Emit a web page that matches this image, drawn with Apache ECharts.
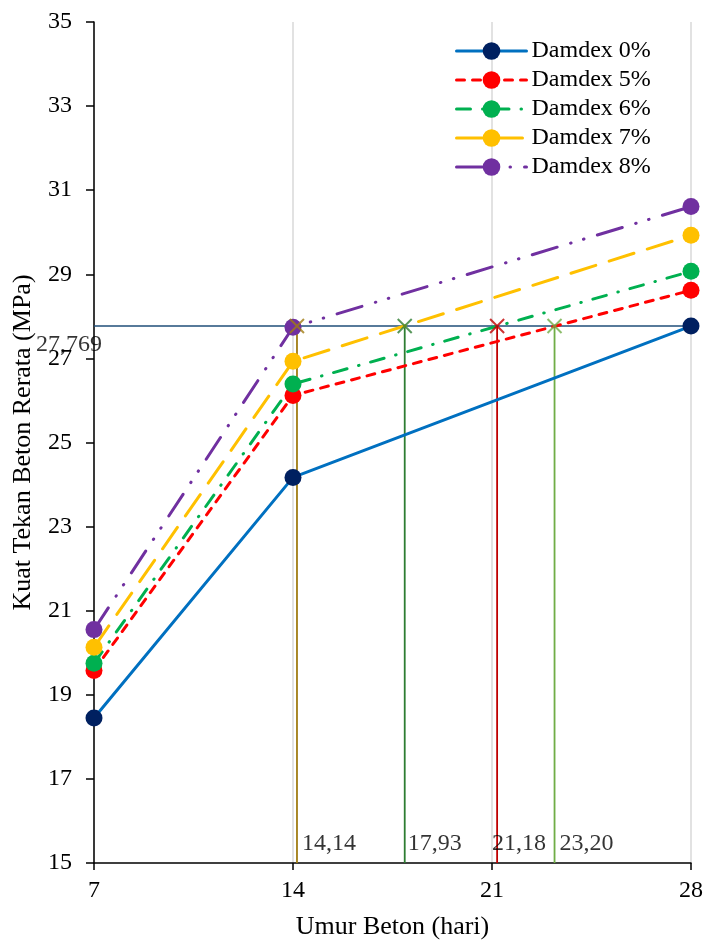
<!DOCTYPE html>
<html><head><meta charset="utf-8">
<script src="https://cdn.jsdelivr.net/npm/echarts@6/dist/echarts.min.js"></script>
<style>html,body{margin:0;padding:0;background:#fff}#c{width:704px;height:940px}</style>
</head><body><div id="c"></div>
<script>
const ages = [7, 14, 28];
const seriesNames = ['Damdex 0%', 'Damdex 5%', 'Damdex 6%', 'Damdex 7%', 'Damdex 8%'];
const d0 = [18.45, 24.17, 27.769];
const d5 = [19.58, 26.12, 28.62];
const d6 = [19.75, 26.39, 29.07];
const d7 = [20.13, 26.93, 29.93];
const d8 = [20.55, 27.74, 30.61];
const targetStrength = 27.769;
const targetLabel = '27,769';
const intersectX = [14.14, 17.93, 21.18, 23.20];
const intersectLabels = ['14,14', '17,93', '21,18', '23,20'];
const xTicks = [7, 14, 21, 28];
const yMin = 15, yMax = 35, yStep = 2;

const FONT = 'Liberation Serif';
const lineColors = ['#0070C0', '#FF0000', '#00B050', '#FFC000', '#7030A0'];
const markerColors = ['#002060', '#FF0000', '#00B050', '#FFC000', '#7030A0'];
const dashTypes = ['solid', [8, 8], [14, 12, 0.5, 12], [26, 14], [26, 14, 0.5, 13, 0.5, 14]];
const vColors = ['#A07C12', '#2E7D32', '#C00000', '#70AD47'];
const vLabelOffsets = [[0, 0], [-2, 0], [-10, 0], [0, 0]];
const allData = [d0, d5, d6, d7, d8];

const series = [];
allData.forEach((d, i) => {
  series.push({
    name: seriesNames[i], type: 'line', z: 5,
    data: ages.map((a, k) => [a, d[k]]),
    symbol: 'circle', symbolSize: 17,
    lineStyle: { color: lineColors[i], width: 3, type: dashTypes[i], cap: 'round' },
    itemStyle: { color: markerColors[i] }
  });
});
series.push({
  type: 'line', z: 3, silent: true,
  data: [[xTicks[0], targetStrength], [xTicks[xTicks.length - 1], targetStrength]],
  symbol: 'none', lineStyle: { color: '#1F4E79', width: 1.6 }
});
series.push({
  type: 'scatter', z: 6, silent: true, symbolSize: 0,
  data: [[xTicks[0], targetStrength]],
  label: { show: true, position: 'bottom', distance: 7, offset: [-25, 0], formatter: targetLabel,
    fontFamily: FONT, fontSize: 24, color: '#000' }
});
intersectX.forEach((x, i) => {
  series.push({
    type: 'line', z: 4, silent: true,
    data: [[x, yMin], [x, targetStrength]],
    symbol: 'none', lineStyle: { color: vColors[i], width: 1.8 }
  });
  series.push({
    type: 'scatter', z: 7, silent: true,
    data: [[x, targetStrength]],
    symbol: 'path://M0,0L10,10M10,0L0,10', symbolSize: 14,
    itemStyle: { color: 'none', borderColor: vColors[i], borderWidth: 2 }
  });
  series.push({
    type: 'scatter', z: 7, silent: true, symbolSize: 0,
    data: [[x, yMin + 0.45]],
    label: { show: true, position: 'right', distance: 5, offset: vLabelOffsets[i],
      formatter: intersectLabels[i], fontFamily: FONT, fontSize: 24, color: '#000' }
  });
});

const chart = echarts.init(document.getElementById('c'), null, { renderer: 'canvas' });
chart.setOption({
  animation: false,
  backgroundColor: '#fff',
  grid: { left: 94, right: 13, top: 22, bottom: 77, containLabel: false, outerBoundsMode: 'none' },
  legend: {
    data: seriesNames, orient: 'vertical', left: 450, top: 34,
    itemWidth: 70, itemHeight: 22, itemGap: 5,
    lineStyle: { width: 3 },
    textStyle: { fontFamily: FONT, fontSize: 24, color: '#000' }
  },
  xAxis: {
    type: 'value', min: 7, max: 28, interval: 7,
    name: 'Umur Beton (hari)', nameLocation: 'middle', nameGap: 51,
    nameTextStyle: { fontFamily: FONT, fontSize: 26, color: '#000' },
    axisLine: { show: true, onZero: false, lineStyle: { color: '#000', width: 1.5 } },
    axisTick: { show: true, length: 7, lineStyle: { color: '#000', width: 1.5 } },
    axisLabel: { fontFamily: FONT, fontSize: 24, color: '#000', margin: 16 },
    splitLine: { show: true, lineStyle: { color: '#D9D9D9', width: 1.5 } }
  },
  yAxis: {
    type: 'value', min: yMin, max: yMax, interval: yStep,
    name: 'Kuat Tekan Beton Rerata (MPa)', nameLocation: 'middle', nameGap: 58, nameRotate: 90,
    nameTextStyle: { fontFamily: FONT, fontSize: 26, color: '#000' },
    axisLine: { show: true, lineStyle: { color: '#000', width: 1.5 } },
    axisTick: { show: true, length: 8, lineStyle: { color: '#000', width: 1.5 } },
    axisLabel: { fontFamily: FONT, fontSize: 24, color: '#000', margin: 22 },
    splitLine: { show: false }
  },
  series: series
});
</script></body></html>
